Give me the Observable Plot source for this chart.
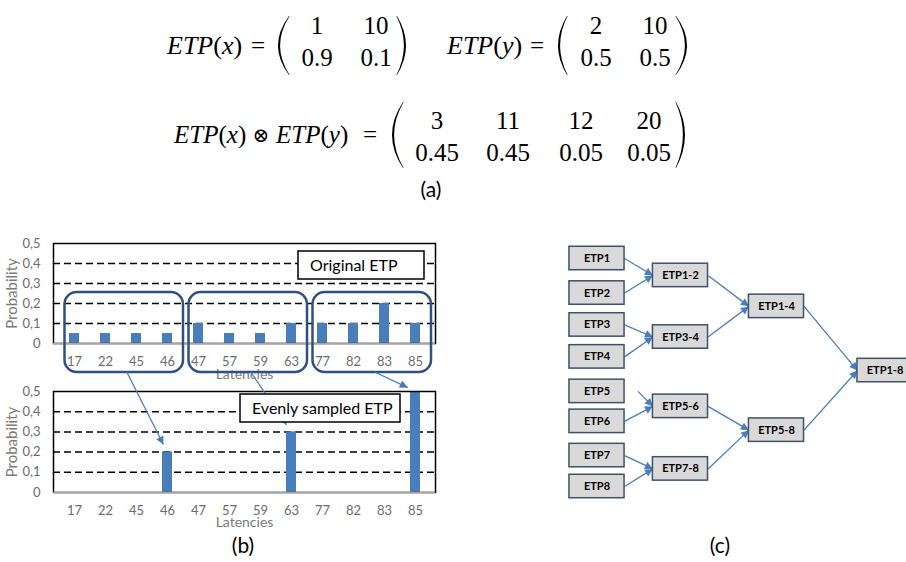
<!DOCTYPE html>
<html><head><meta charset="utf-8">
<script src="https://cdn.jsdelivr.net/npm/d3@7"></script>
<script src="https://cdn.jsdelivr.net/npm/@observablehq/plot@0.6"></script>
<style>
body{margin:0;background:#fff;}
#root{position:relative;width:906px;height:562px;overflow:hidden;background:#fff;font-family:Lato,sans-serif;}
.abs{position:absolute;}
</style></head><body><div id="root"></div>
<script>
// ---------- data ----------
const latencies = ["17","22","45","46","47","57","59","63","77","82","83","85"];
const originalProb = [0.05,0.05,0.05,0.05,0.1,0.05,0.05,0.1,0.1,0.1,0.2,0.1];
const evenlyProb = [0,0,0,0.2,0,0,0,0.3,0,0,0,0.5];
const probTicks = [0,0.1,0.2,0.3,0.4,0.5];
const groupStart = ["17","47","77"];
const groupEnd = ["46","63","85"];
const sampledAt = ["46","63","85"];
const legendTop = "Original ETP";
const legendBottom = "Evenly sampled ETP";

const etpXVal = ["1","10"], etpXProb = ["0.9","0.1"];
const etpYVal = ["2","10"], etpYProb = ["0.5","0.5"];
const convVal = ["3","11","12","20"], convProb = ["0.45","0.45","0.05","0.05"];

const nodeNames = ["ETP1","ETP2","ETP3","ETP4","ETP5","ETP6","ETP7","ETP8","ETP1-2","ETP3-4","ETP5-6","ETP7-8","ETP1-4","ETP5-8","ETP1-8"];
const nodeLevel = [0,0,0,0,0,0,0,0,1,1,1,1,2,2,3];
const nodeRow = [0,1.06,2.04,3.02,4.08,5.0,6.05,7,0.52,2.41,4.54,6.46,1.47,5.27,3.44];
const levelPos = [0,1,2.15,3.45];
const edgeFrom = ["ETP1","ETP2","ETP3","ETP4","ETP5","ETP6","ETP7","ETP8","ETP1-2","ETP3-4","ETP5-6","ETP7-8","ETP1-4","ETP5-8"];
const edgeTo   = ["ETP1-2","ETP1-2","ETP3-4","ETP3-4","ETP5-6","ETP5-6","ETP7-8","ETP7-8","ETP1-4","ETP1-4","ETP5-8","ETP5-8","ETP1-8","ETP1-8"];
const edgeGap  = [0,0,0,0,0.16,0,0,0,0,0,0,0,0,0];

// ---------- helpers ----------
const blue = "#4a7ebb";
const root = d3.select("#root");
function place(node, left, top, w, h) {
  const div = root.append("div").attr("class","abs")
    .style("left", left+"px").style("top", top+"px").style("width", w+"px").style("height", h+"px");
  div.node().appendChild(node);
}
function addMarker(svg, id, color) {
  svg.append("defs").append("marker").attr("id", id)
    .attr("viewBox","0 0 10 10").attr("refX",10).attr("refY",5)
    .attr("markerWidth",9).attr("markerHeight",8).attr("markerUnits","userSpaceOnUse").attr("orient","auto")
    .append("path").attr("d","M0,0L10,5L0,10Z").attr("fill", color);
}
const commaFmt = d => d === 0 ? "0" : d.toFixed(1).replace(".", ",");

function barChart(probs, height, marginBottom, labelDy) {
  const data = latencies.map((l, i) => ({lat: l, p: probs[i]}));
  return Plot.plot({
    width: 450, height, marginLeft: 53, marginRight: 15, marginTop: 13, marginBottom,
    style: {fontFamily: "Lato, sans-serif", fontSize: "13px", color: "#6b6b6b", background: "transparent", maxWidth: "none", overflow: "visible"},
    x: {domain: latencies, paddingInner: 0.685, paddingOuter: 0.3425, tickSize: 0, tickPadding: 13, label: null},
    y: {domain: [0, 0.5], ticks: probTicks, tickFormat: commaFmt, tickSize: 0, tickPadding: 13, label: null},
    marks: [
      Plot.ruleY(probTicks.filter(t => t > 0 && t < 0.5), {stroke: "#000", strokeWidth: 1.5, strokeDasharray: "7,4"}),
      Plot.barY(data, {x: "lat", y: "p", fill: blue}),
      Plot.frame({stroke: "#000", strokeWidth: 1.5}),
      Plot.ruleY([0], {stroke: "#a6a6a6", strokeWidth: 1.5}),
      Plot.text(["Latencies"], {frameAnchor: "bottom", dy: labelDy, text: d => d, fontSize: 14, fill: "#7a7a7a"}),
      Plot.text(["Probability"], {frameAnchor: "left", textAnchor: "middle", dx: -41, rotate: -90, text: d => d, fontSize: 15, fill: "#7a7a7a"})
    ]
  });
}

// ---------- (b) charts ----------
const TOP0 = 230, BOT0 = 378;
const topChart = barChart(originalProb, 155, 42, 35);
const botChart = barChart(evenlyProb, 160, 46, 34);
place(topChart, 0, TOP0, 450, 155);
place(botChart, 0, BOT0, 450, 160);

// ---------- (c) diagram ----------
const nodes = nodeNames.map((n, i) => ({name: n, x: levelPos[nodeLevel[i]], y: nodeRow[i]}));
const byName = new Map(nodes.map(d => [d.name, d]));
const links = edgeFrom.map((f, i) => ({s: byName.get(f), t: byName.get(edgeTo[i]), gap: edgeGap[i]}));
const HW = 0.33, HH = 0.36;
const diagram = Plot.plot({
  width: 365, height: 275, marginLeft: 41.5, marginRight: 35.5, marginTop: 23, marginBottom: 24,
  style: {fontFamily: "Lato, sans-serif", background: "transparent", maxWidth: "none", overflow: "visible"},
  x: {domain: [0, 3.45], axis: null},
  y: {domain: [0, 7], reverse: true, axis: null},
  marks: [
    Plot.link(links, {x1: d => d.s.x + HW + d.gap, y1: d => d.s.y, x2: d => d.t.x - HW, y2: d => d.t.y, stroke: blue, strokeWidth: 1.3}),
    Plot.rect(nodes, {x1: d => d.x - HW, x2: d => d.x + HW, y1: d => d.y - HH, y2: d => d.y + HH, fill: "#d9d9d9", stroke: "#3f5068", strokeWidth: 1.5}),
    Plot.text(nodes, {x: "x", y: "y", text: "name", fontWeight: "bold", fontSize: 11, fill: "#000"})
  ]
});
const dsvg = d3.select(diagram);
addMarker(dsvg, "triC", blue);
dsvg.selectAll('g[aria-label="link"] path').attr("marker-end", "url(#triC)");
place(diagram, 555, 235, 365, 275);

// ---------- overlay: equations, annotations, panel labels ----------
const ov = root.append("svg").attr("class","abs").attr("width",906).attr("height",562)
  .style("left","0px").style("top","0px").style("pointer-events","none");
addMarker(ov, "triB", blue);

// equations
const serif = "'Liberation Serif', 'DejaVu Serif', serif";
function etp(x, y, v, size) {
  const t = ov.append("text").attr("x", x).attr("y", y).attr("font-family", serif).attr("font-size", size).attr("fill", "#000");
  t.append("tspan").attr("font-style","italic").text("ETP");
  t.append("tspan").text("(");
  t.append("tspan").attr("font-style","italic").text(v);
  t.append("tspan").text(")");
}
function sym(x, y, s, size = 25, family = serif) {
  ov.append("text").attr("x", x).attr("y", y).attr("text-anchor","middle").attr("font-family", family).attr("font-size", size).attr("fill","#000").text(s);
}
function paren(x0, x1, y1, y2, left) {
  const m = (y1 + y2) / 2;
  let d;
  if (left) {
    const co = 2 * x0 - x1, ci = 2 * (x0 + 1.8) - x1;
    d = `M${x1},${y1}Q${co},${m} ${x1},${y2}L${x1+0.6},${y2}Q${ci},${m} ${x1+0.6},${y1}Z`;
  } else {
    const co = 2 * x1 - x0, ci = 2 * (x1 - 1.8) - x0;
    d = `M${x0},${y1}Q${co},${m} ${x0},${y2}L${x0-0.6},${y2}Q${ci},${m} ${x0-0.6},${y1}Z`;
  }
  ov.append("path").attr("d", d).attr("fill", "#000");
}
function matrix(xs, vals, probs, base1, base2) {
  vals.forEach((v, i) => sym(xs[i], base1, v));
  probs.forEach((v, i) => sym(xs[i], base2, v));
}
// line 1
etp(167, 54, "x", 26); sym(258, 54, "=");
paren(278, 289, 16, 75, true); paren(397, 406, 16, 75, false);
matrix([317, 376], etpXVal, etpXProb, 34, 66);
etp(447, 54, "y", 26); sym(537, 54, "=");
paren(558, 567, 16, 75, true); paren(676, 687, 16, 75, false);
matrix([596, 655], etpYVal, etpYProb, 34, 66);
// line 2
etp(174, 143, "x", 25); sym(261, 142, "⊗", 20, "'DejaVu Serif', serif"); etp(276, 143, "y", 25); sym(370, 143, "=");
paren(392, 403, 102, 168, true); paren(676, 685, 102, 168, false);
matrix([437, 508, 581, 649], convVal, convProb, 129, 161);

// annotations for (b)
const tx = topChart.scale("x"), ty = topChart.scale("y");
const bx = botChart.scale("x"), by = botChart.scale("y");
const bw = tx.bandwidth;
groupStart.forEach((g, i) => {
  const x1 = tx.apply(g) - 4.5, x2 = tx.apply(groupEnd[i]) + bw + 11;
  const y1 = TOP0 + ty.apply(0.25) - 1, y2 = TOP0 + ty.apply(0) + 29;
  ov.append("rect").attr("x", x1).attr("y", y1).attr("width", x2 - x1).attr("height", y2 - y1)
    .attr("rx", 12).attr("fill", "none").attr("stroke", "#2f5080").attr("stroke-width", 2.5);
  const sx = (x1 + x2) / 2 + 3, sy = y2;
  const target = sampledAt[i];
  const ex0 = bx.apply(target) + bw / 2, ey0 = BOT0 + by.apply(evenlyProb[latencies.indexOf(target)]);
  const dx = ex0 - sx, dy = ey0 - sy, L = Math.hypot(dx, dy), back = 8;
  ov.append("line").attr("x1", sx).attr("y1", sy).attr("x2", ex0 - dx / L * back).attr("y2", ey0 - dy / L * back)
    .attr("stroke", blue).attr("stroke-width", 1.3).attr("marker-end", "url(#triB)");
});
// legend boxes
function legendBox(x, y, w, h, label) {
  ov.append("rect").attr("x", x).attr("y", y).attr("width", w).attr("height", h).attr("fill", "#fff").attr("stroke", "#000").attr("stroke-width", 1.5);
  ov.append("text").attr("x", x + 12).attr("y", y + h / 2).attr("dy", "0.36em").attr("font-family", "Lato, sans-serif").attr("font-size", 16).attr("fill", "#000").text(label);
}
legendBox(298, 251, 126, 28, legendTop);
legendBox(240, 394, 160, 28, legendBottom);

// panel labels
function panelLabel(x, y, s) {
  ov.append("text").attr("x", x).attr("y", y).attr("text-anchor", "middle").attr("font-family", "Lato, sans-serif").attr("font-size", 21).attr("fill", "#000").text(s);
}
panelLabel(431, 197, "(a)");
panelLabel(243, 553, "(b)");
panelLabel(720, 553, "(c)");
</script></body></html>
